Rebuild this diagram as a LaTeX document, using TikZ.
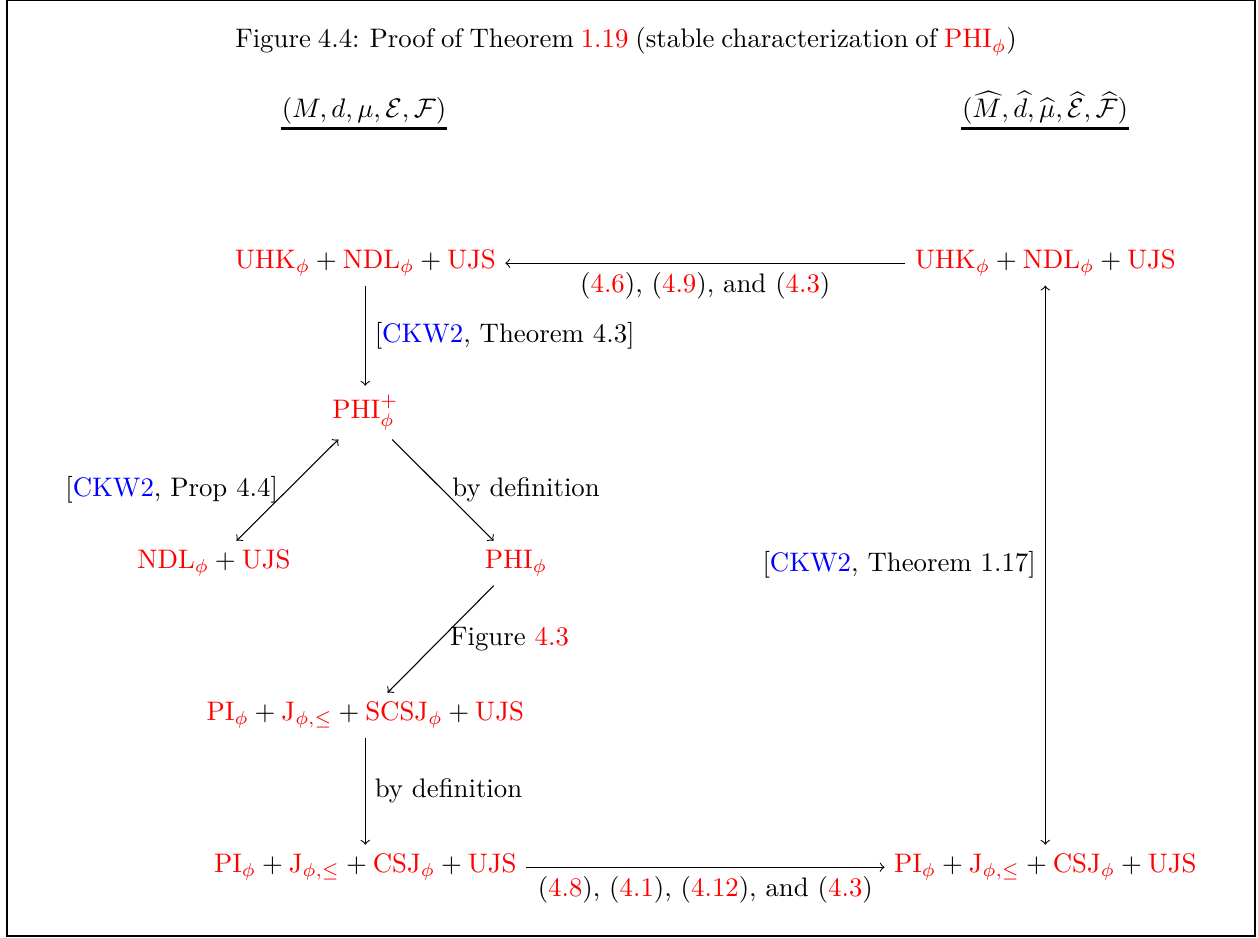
\documentclass[tikz,border=0pt]{standalone}
\usepackage{amsmath,amssymb}
\newcommand\myred[1]{\textcolor{red}{#1}}
\newcommand\myblue[1]{\textcolor{blue}{#1}}
\begin{document}
\begin{tikzpicture}[x=0.37313pt,y=-0.37313pt,
  obj/.style={anchor=base, inner sep=3.33pt},
  arr/.style={->, line width=0.4pt},
  dbl/.style={<->, line width=0.4pt},
  hdr/.style={anchor=base, inner xsep=0pt, inner ysep=1.2pt},
  uline/.style={line width=0.8pt}]
\useasboundingbox (0,0) rectangle (1258,938);
\draw[line width=0.75pt] (7,0.5) rectangle (1255,936);

\node[anchor=base] (title) at (626,48) {\spaceskip=2.6pt\relax Figure 4.4: Proof of Theorem \myred{1.19} (stable characterization of \myred{$\mathrm{PHI}_\phi$})};

\node[hdr] (h1) at (364,118) {$(M,d,\mu,\mathcal{E},\mathcal{F})$};
\draw[uline] (h1.south west) -- (h1.south east);
\node[hdr] (h2) at (1045,118) {$(\widehat{M},\widehat{d},\widehat{\mu},\widehat{\mathcal{E}},\widehat{\mathcal{F}})$};
\draw[uline] (h2.south west) -- (h2.south east);

\node[obj] (A) at (365.3,268.5) {$\myred{\mathrm{UHK}_\phi}+\myred{\mathrm{NDL}_\phi}+\myred{\mathrm{UJS}}$};
\node[obj] (B) at (1045.3,268.5) {$\myred{\mathrm{UHK}_\phi}+\myred{\mathrm{NDL}_\phi}+\myred{\mathrm{UJS}}$};
\node[obj] (P) at (365.3,418.5) {$\myred{\mathrm{PHI}^+_\phi}$};
\node[obj] (N) at (214,568.5) {$\myred{\mathrm{NDL}_\phi}+\myred{\mathrm{UJS}}$};
\node[obj] (Q) at (516,568.5) {$\myred{\mathrm{PHI}_\phi}$};
\node[obj] (C) at (365.3,720.5) {$\myred{\mathrm{PI}_\phi}+\myred{\mathrm{J}_{\phi,\le}}+\myred{\mathrm{SCSJ}_\phi}+\myred{\mathrm{UJS}}$};
\node[obj] (D) at (365.3,872.5) {$\myred{\mathrm{PI}_\phi}+\myred{\mathrm{J}_{\phi,\le}}+\myred{\mathrm{CSJ}_\phi}+\myred{\mathrm{UJS}}$};
\node[obj] (E) at (1045.3,872.5) {$\myred{\mathrm{PI}_\phi}+\myred{\mathrm{J}_{\phi,\le}}+\myred{\mathrm{CSJ}_\phi}+\myred{\mathrm{UJS}}$};

\draw[arr] (B) -- node[below] {(\myred{4.6}), (\myred{4.9}), and (\myred{4.3})} (A);
\draw[arr] (A) -- node[right] {[\myblue{CKW2}, Theorem 4.3]} (P);
\draw[dbl] (N) -- node[left] {[\myblue{CKW2}, Prop 4.4]} (P);
\draw[arr] (P) -- node[right] {by definition} (Q);
\draw[arr] (Q) -- node[right] {Figure \myred{4.3}} (C);
\draw[arr] (C) -- node[right] {by definition} (D);
\draw[arr] (D) -- node[below] {(\myred{4.8}), (\myred{4.1}), (\myred{4.12}), and (\myred{4.3})} (E);
\draw[dbl] (E) -- node[left] {[\myblue{CKW2}, Theorem 1.17]} (B);
\end{tikzpicture}
\end{document}
